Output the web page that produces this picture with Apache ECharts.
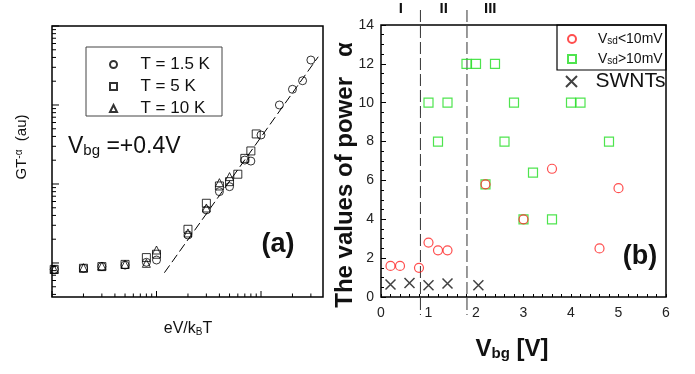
<!DOCTYPE html>
<html><head><meta charset="utf-8">
<script src="https://cdn.jsdelivr.net/npm/echarts@6/dist/echarts.min.js"></script>
<style>html,body{margin:0;padding:0;background:#fff}#c{width:695px;height:374px}</style>
</head><body><div id="c"></div>
<script>
// ---------- Panel (a): GT^-alpha vs eV/kBT (log-log) ----------
const aX15 = [1.05, 2, 3, 5, 8, 10, 20, 30, 40, 50, 70, 80, 100, 150, 200, 250, 300];
const aY15 = [0.83, 0.857, 0.90, 0.94, 1.02, 1.09, 2.26, 4.69, 8.0, 9.25, 20.1, 19.5, 41.7, 100, 158, 203, 371];
const aX5  = [1.05, 2, 3, 5, 8, 10, 20, 30, 40, 50, 60, 70, 80, 90];
const aY5  = [0.83, 0.857, 0.90, 0.96, 1.17, 1.29, 2.67, 5.70, 9.44, 10.7, 13.3, 21.1, 26.2, 43.0];
const aX10 = [1.05, 2, 3, 5, 8, 10, 20, 30, 40, 50];
const aY10 = [0.83, 0.87, 0.916, 0.96, 0.99, 1.46, 2.4, 4.97, 10.4, 12.4];
const fitX = [11.9, 353];
const fitY = [0.753, 408];
const aNames = ['T = 1.5 K', 'T = 5 K', 'T = 10 K'];
const aXMin = 1, aXMax = 392, aYMin = 0.371, aYMax = 1000;

// ---------- Panel (b): power alpha vs Vbg ----------
const bXlow  = [0.2, 0.4, 0.8, 1.0, 1.2, 1.4, 2.2, 3.0, 3.6, 4.6, 5.0];
const bYlow  = [1.6, 1.6, 1.5, 2.8, 2.4, 2.4, 5.8, 4.0, 6.6, 2.5, 5.6];
const bXhigh = [1.0, 1.2, 1.4, 1.8, 2.0, 2.4, 2.2, 2.6, 2.8, 3.0, 3.2, 3.6, 4.0, 4.2, 4.8];
const bYhigh = [10, 8, 10, 12, 12, 12, 5.8, 8, 10, 4, 6.4, 4, 10, 10, 8];
const bXsw   = [0.2, 0.6, 1.0, 1.4, 2.05];
const bYsw   = [0.64, 0.72, 0.6, 0.69, 0.6];
const bNames = ['Vsd<10mV', 'Vsd>10mV', 'SWNTs'];
const regionBounds = [0.83, 1.81];
const regionLabelX = [0.42, 1.32, 2.3];
const regionLabels = ['I', 'II', 'III'];
const bXMin = 0, bXMax = 6, bXStep = 1;
const bYMin = 0, bYMax = 14, bYStep = 2;

const FONT = '"Liberation Sans", Arial, Helvetica, sans-serif';
const zip = (xs, ys) => xs.map((x, i) => [x, ys[i]]);

// log-axis ticks for panel (a)
const aTicks = [];
[1, 10, 100].forEach(d => { for (let m = 1; m <= 9; m++) { const v = d * m; if (v >= aXMin && v <= aXMax) aTicks.push([v, aYMin, m === 1 ? 0 : 1]); } });
[0.1, 1, 10, 100, 1000].forEach(d => { for (let m = 1; m <= 9; m++) { const v = d * m; if (v >= aYMin && v <= aYMax) aTicks.push([aXMin, v, m === 1 ? 2 : 3]); } });

const chart = echarts.init(document.getElementById('c'));
const hollow = c => ({ color: 'rgba(0,0,0,0)', borderColor: c, borderWidth: 1 });

chart.setOption({
  animation: false,
  backgroundColor: '#fff',
  textStyle: { fontFamily: FONT },
  grid: [
    { left: 52, top: 26, width: 271, height: 271, show: true, borderColor: '#000', borderWidth: 1.5, backgroundColor: 'rgba(0,0,0,0)' },
    { left: 381, top: 25, width: 285, height: 272, show: true, borderColor: '#000', borderWidth: 1.5, backgroundColor: 'rgba(0,0,0,0)' }
  ],
  xAxis: [
    { gridIndex: 0, type: 'log', logBase: 10, min: aXMin, max: aXMax,
      axisLine: { show: false }, axisTick: { show: false }, axisLabel: { show: false }, splitLine: { show: false } },
    { gridIndex: 1, type: 'value', min: bXMin, max: bXMax, interval: bXStep,
      axisLine: { show: false },
      axisTick: { show: true, inside: true, length: 3, lineStyle: { color: '#000' } },
      minorTick: { show: true, splitNumber: 5, length: 3, lineStyle: { color: '#000' } },
      axisLabel: { fontSize: 14, color: '#222', margin: 9, fontFamily: FONT },
      splitLine: { show: false } }
  ],
  yAxis: [
    { gridIndex: 0, type: 'log', logBase: 10, min: aYMin, max: aYMax,
      axisLine: { show: false }, axisTick: { show: false }, axisLabel: { show: false }, splitLine: { show: false } },
    { gridIndex: 1, type: 'value', min: bYMin, max: bYMax, interval: bYStep,
      axisLine: { show: false },
      axisTick: { show: true, inside: true, length: 5, lineStyle: { color: '#000' } },
      minorTick: { show: true, splitNumber: 4, length: 3, lineStyle: { color: '#000' } },
      axisLabel: { fontSize: 14, color: '#222', margin: 7, fontFamily: FONT },
      splitLine: { show: false } }
  ],
  legend: [
    { data: [
        { name: aNames[0] },
        { name: aNames[1], icon: 'path://M0,0H10V10H0Z' },
        { name: aNames[2], icon: 'path://M5,0L10,10H0Z' }
      ],
      orient: 'vertical', left: 109, top: 56, itemWidth: 44, itemHeight: 7, itemGap: 5, padding: 0,
      selectedMode: false,
      textStyle: { fontSize: 17, color: '#111', fontFamily: FONT } },
    { data: [bNames[0], { name: bNames[1], icon: 'path://M0,0H10V10H0Z' }],
      orient: 'vertical', left: 567, top: 32, itemWidth: 42, itemHeight: 8, itemGap: 6, padding: 0,
      selectedMode: false,
      formatter: n => n.replace('Vsd', 'V{s|sd}'),
      textStyle: { fontSize: 14, color: '#111', fontFamily: FONT,
        rich: { s: { fontSize: 10, verticalAlign: 'bottom', fontFamily: FONT, color: '#111', padding: [4, 0, 0, 0] } } } },
    { data: [bNames[2]], orient: 'vertical', left: 565, top: 71, itemWidth: 38, itemHeight: 11, padding: 0,
      selectedMode: false,
      textStyle: { fontSize: 21, color: '#111', fontFamily: FONT } }
  ],
  graphic: [
    { type: 'rect', shape: { x: 86, y: 47, width: 136, height: 69 }, style: { fill: 'none', stroke: '#444', lineWidth: 1 }, z: 10 },
    { type: 'rect', shape: { x: 557, y: 25, width: 109, height: 45 }, style: { fill: 'none', stroke: '#000', lineWidth: 1.2 }, z: 10 },
    { type: 'text', x: 22, y: 147, rotation: Math.PI / 2,
      style: { text: 'GT{sup|-α}  (au)', fontSize: 15, fontFamily: FONT, fill: '#111', align: 'center', verticalAlign: 'middle',
        rich: { sup: { fontSize: 10, verticalAlign: 'top', fontFamily: FONT, fill: '#111' } } } },
    { type: 'text', x: 188, y: 329,
      style: { text: 'eV/k{sub|B}T', fontSize: 16, fontFamily: FONT, fill: '#111', align: 'center', verticalAlign: 'middle',
        rich: { sub: { fontSize: 10, verticalAlign: 'bottom', fontFamily: FONT, fill: '#111' } } } },
    { type: 'text', x: 68, y: 147,
      style: { text: 'V{sub|bg} =+0.4V', fontSize: 23, fontFamily: FONT, fill: '#111', align: 'left', verticalAlign: 'middle',
        rich: { sub: { fontSize: 15, verticalAlign: 'bottom', fontFamily: FONT, fill: '#111' } } } },
    { type: 'text', x: 278, y: 245,
      style: { text: '(a)', fontSize: 27, fontWeight: 'bold', fontFamily: FONT, fill: '#111', align: 'center', verticalAlign: 'middle' } },
    { type: 'text', x: 640, y: 257,
      style: { text: '(b)', fontSize: 27, fontWeight: 'bold', fontFamily: FONT, fill: '#111', align: 'center', verticalAlign: 'middle' } },
    { type: 'text', x: 345, y: 175, rotation: Math.PI / 2,
      style: { text: 'The values of power   α', fontSize: 24, fontWeight: 'bold', fontFamily: FONT, fill: '#111', align: 'center', verticalAlign: 'middle' } },
    { type: 'text', x: 512, y: 349,
      style: { text: 'V{sub|bg} [V]', fontSize: 24, fontWeight: 'bold', fontFamily: FONT, fill: '#111', align: 'center', verticalAlign: 'middle',
        rich: { sub: { fontSize: 15, fontWeight: 'bold', verticalAlign: 'bottom', fontFamily: FONT, fill: '#111' } } } }
  ],
  series: [
    { name: aNames[0], type: 'scatter', xAxisIndex: 0, yAxisIndex: 0, symbol: 'circle', symbolSize: 8,
      itemStyle: hollow('#000'), data: zip(aX15, aY15), z: 3 },
    { name: aNames[1], type: 'scatter', xAxisIndex: 0, yAxisIndex: 0, symbol: 'rect', symbolSize: 8,
      itemStyle: hollow('#000'), data: zip(aX5, aY5), z: 3 },
    { name: aNames[2], type: 'scatter', xAxisIndex: 0, yAxisIndex: 0, symbol: 'triangle', symbolSize: 8,
      itemStyle: hollow('#000'), data: zip(aX10, aY10), z: 3 },
    { name: 'fit', type: 'line', xAxisIndex: 0, yAxisIndex: 0, showSymbol: false, silent: true,
      lineStyle: { color: '#000', width: 1, type: [9, 4] }, data: zip(fitX, fitY), z: 2 },
    { name: 'aTicks', type: 'custom', xAxisIndex: 0, yAxisIndex: 0, silent: true, clip: false,
      encode: { x: 0, y: 1 }, data: aTicks,
      renderItem: (params, api) => {
        const k = api.value(2);
        const p = api.coord([api.value(0), api.value(1)]);
        let shape;
        if (k < 2) { const len = k === 0 ? 6 : 3.5; shape = { x1: p[0], y1: p[1], x2: p[0], y2: p[1] - len }; }
        else { const len = k === 2 ? 7 : 4; shape = { x1: p[0], y1: p[1], x2: p[0] + len, y2: p[1] }; }
        return { type: 'line', shape, style: { stroke: '#000', lineWidth: 1 } };
      } },
    { name: 'bounds', type: 'custom', xAxisIndex: 1, yAxisIndex: 1, silent: true, clip: false,
      encode: { x: 0 }, data: regionBounds.map(v => [v]),
      renderItem: (params, api) => {
        const t = api.coord([api.value(0), bYMax]);
        const b = api.coord([api.value(0), bYMin]);
        return { type: 'line', shape: { x1: t[0], y1: t[1] - 15, x2: b[0], y2: b[1] + 18 },
          style: { stroke: '#333', lineWidth: 1, lineDash: [12, 4] } };
      } },
    { name: 'regions', type: 'custom', xAxisIndex: 1, yAxisIndex: 1, silent: true, clip: false,
      encode: { x: 0 }, data: regionLabelX.map((v, i) => [v, regionLabels[i]]),
      dimensions: ['x', { name: 'lab', type: 'ordinal' }],
      renderItem: (params, api) => {
        const t = api.coord([api.value(0), bYMax]);
        return { type: 'text', x: t[0], y: t[1] - 16,
          style: { text: regionLabels[params.dataIndex], fontSize: 15, fontWeight: 'bold', fontFamily: FONT, fill: '#111', align: 'center', verticalAlign: 'middle' } };
      } },
    { name: bNames[1], type: 'scatter', xAxisIndex: 1, yAxisIndex: 1, symbol: 'rect', symbolSize: 9,
      itemStyle: { color: 'rgba(0,0,0,0)', borderColor: '#22dd22', borderWidth: 1.2 }, data: zip(bXhigh, bYhigh), z: 3 },
    { name: bNames[0], type: 'scatter', xAxisIndex: 1, yAxisIndex: 1, symbol: 'circle', symbolSize: 9,
      itemStyle: { color: 'rgba(0,0,0,0)', borderColor: '#ff2222', borderWidth: 1.2 }, data: zip(bXlow, bYlow), z: 4 },
    { name: bNames[2], type: 'scatter', xAxisIndex: 1, yAxisIndex: 1, symbol: 'path://M0,0L10,10M10,0L0,10', symbolSize: 10,
      itemStyle: { color: 'rgba(0,0,0,0)', borderColor: '#111', borderWidth: 1.5 }, data: zip(bXsw, bYsw), z: 4 }
  ]
});
</script>
</body></html>
